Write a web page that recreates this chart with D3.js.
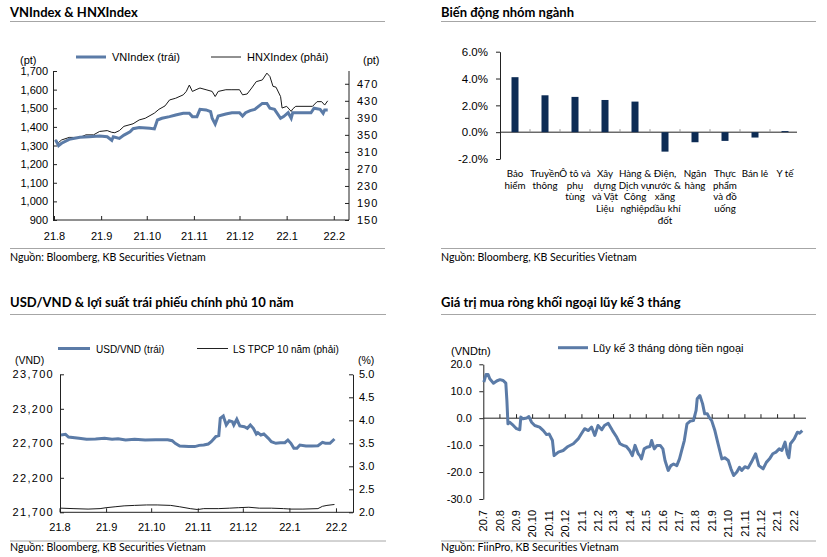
<!DOCTYPE html>
<html><head><meta charset="utf-8">
<script src="https://cdn.jsdelivr.net/npm/d3@7"></script>
<style>
body{margin:0;background:#fff}
svg{display:block}
text{font-family:"Liberation Sans",Arial,sans-serif;fill:#000}
.title{font-family:Lato,sans-serif;font-weight:bold;font-size:13px}
.src{font-family:Lato,sans-serif;font-size:10.6px}
.cat{font-family:Lato,sans-serif;font-size:9.8px}
</style>
</head><body>
<svg id="c" width="827" height="557"></svg>
<script>
// ---------- DATA ----------
const vnDates = ["2021-08-02","2021-08-04","2021-08-06","2021-08-11","2021-08-18","2021-08-24","2021-08-31","2021-09-05","2021-09-08","2021-09-09","2021-09-13","2021-09-16","2021-09-20","2021-09-22","2021-09-26","2021-10-03","2021-10-06","2021-10-08","2021-10-11","2021-10-16","2021-10-20","2021-10-25","2021-10-29","2021-10-31","2021-11-03","2021-11-05","2021-11-09","2021-11-12","2021-11-13","2021-11-15","2021-11-17","2021-11-22","2021-11-26","2021-12-01","2021-12-03","2021-12-05","2021-12-08","2021-12-11","2021-12-16","2021-12-19","2021-12-21","2021-12-24","2021-12-28","2021-12-30","2022-01-02","2022-01-04","2022-01-05","2022-01-09","2022-01-17","2022-01-19","2022-01-23","2022-01-25","2022-01-26","2022-01-28"];
const vnValues = [1330,1299,1312,1333,1344,1347,1351,1347,1328,1347,1338,1356,1374,1390,1396,1392,1389,1437,1446,1455,1464,1473,1473,1455,1455,1494,1491,1482,1446,1415,1458,1469,1476,1476,1458,1476,1487,1494,1526,1526,1500,1494,1446,1455,1476,1446,1476,1476,1476,1500,1494,1473,1491,1491];
const hnxDates = ["2021-08-02","2021-08-04","2021-08-06","2021-08-11","2021-08-18","2021-08-22","2021-08-27","2021-08-31","2021-09-05","2021-09-08","2021-09-10","2021-09-13","2021-09-16","2021-09-22","2021-09-26","2021-09-30","2021-10-06","2021-10-09","2021-10-13","2021-10-16","2021-10-20","2021-10-25","2021-10-27","2021-10-29","2021-10-31","2021-11-03","2021-11-05","2021-11-09","2021-11-13","2021-11-15","2021-11-17","2021-11-22","2021-11-26","2021-12-01","2021-12-03","2021-12-06","2021-12-09","2021-12-12","2021-12-16","2021-12-19","2021-12-21","2021-12-23","2021-12-25","2021-12-28","2021-12-29","2022-01-01","2022-01-04","2022-01-05","2022-01-07","2022-01-18","2022-01-21","2022-01-24","2022-01-26","2022-01-28"];
const hnxValues = [338,332,338,344,344,350,350,358,360,356,355,360,370,376,385,389,401,410,418,432,436,444,452,467,452,457,460,456,452,440,452,456,456,456,444,446,460,475,479,495,487,464,462,440,413,417,405,411,417,417,428,428,420,430];
const vnTicks = [900,1000,1100,1200,1300,1400,1500,1600,1700];
const hnxTicks = [150,190,230,270,310,350,390,430,470];
const monthTicks1 = ["2021-08-01","2021-09-01","2021-10-01","2021-11-01","2021-12-01","2022-01-01","2022-02-01"];

const sectors = ["Bảo\nhiểm","Truyền\nthông","Ô tô và\nphụ\ntùng","Xây\ndựng\nvà Vật\nLiệu","Hàng &\nDịch vụ\nCông\nnghiệp","Điện,\nnước &\nxăng\ndầu khí\nđốt","Ngân\nhàng","Thực\nphẩm\nvà đồ\nuống","Bán lẻ","Y tế"];
const sectorChange = [4.1,2.75,2.63,2.4,2.28,-1.45,-0.75,-0.65,-0.4,0.08];
const pctTicks = [-2,0,2,4,6];

const usdDates = ["2021-08-02","2021-08-05","2021-08-07","2021-08-14","2021-08-19","2021-08-25","2021-08-31","2021-09-05","2021-09-09","2021-09-14","2021-09-20","2021-09-27","2021-10-04","2021-10-12","2021-10-15","2021-10-17","2021-10-20","2021-10-26","2021-10-30","2021-11-02","2021-11-05","2021-11-08","2021-11-10","2021-11-13","2021-11-15","2021-11-16","2021-11-18","2021-11-20","2021-11-22","2021-11-24","2021-11-25","2021-11-27","2021-11-29","2021-12-02","2021-12-04","2021-12-06","2021-12-08","2021-12-10","2021-12-11","2021-12-13","2021-12-15","2021-12-18","2021-12-20","2021-12-23","2021-12-26","2021-12-29","2021-12-31","2022-01-02","2022-01-04","2022-01-06","2022-01-08","2022-01-12","2022-01-16","2022-01-20","2022-01-23","2022-01-25","2022-01-28","2022-01-31"];
const usdValues = [22820,22830,22790,22772,22758,22762,22772,22758,22767,22748,22758,22748,22752,22752,22738,22700,22661,22652,22652,22670,22675,22690,22723,22796,22810,23062,23096,22965,23028,23014,22965,23048,22951,22940,22917,22965,22917,22835,22855,22820,22835,22772,22723,22700,22709,22709,22748,22700,22627,22627,22675,22661,22661,22665,22714,22700,22700,22762];
const bondDates = ["2021-08-02","2021-08-10","2021-08-20","2021-08-28","2021-09-01","2021-09-07","2021-09-13","2021-09-20","2021-09-28","2021-10-05","2021-10-14","2021-10-20","2021-10-27","2021-11-01","2021-11-05","2021-11-15","2021-11-22","2021-11-28","2021-12-05","2021-12-12","2021-12-20","2021-12-28","2022-01-02","2022-01-10","2022-01-20","2022-01-23","2022-01-26","2022-01-31"];
const bondValues = [2.09,2.08,2.07,2.08,2.10,2.12,2.14,2.15,2.16,2.16,2.15,2.12,2.08,2.06,2.08,2.08,2.09,2.10,2.11,2.09,2.09,2.08,2.07,2.07,2.08,2.13,2.15,2.17];
const usdTicks = [21700,22200,22700,23200,23700];
const bondTicks = [2.0,2.5,3.0,3.5,4.0,4.5,5.0];

const flowDates = ["2020-07-02","2020-07-06","2020-07-10","2020-07-13","2020-07-20","2020-07-26","2020-08-01","2020-08-07","2020-08-12","2020-08-14","2020-08-16","2020-08-19","2020-08-26","2020-09-01","2020-09-07","2020-09-09","2020-09-13","2020-09-20","2020-09-24","2020-09-29","2020-10-05","2020-10-14","2020-10-21","2020-10-27","2020-11-01","2020-11-07","2020-11-10","2020-11-18","2020-11-27","2020-12-06","2020-12-16","2020-12-25","2020-12-31","2021-01-06","2021-01-13","2021-01-19","2021-01-25","2021-01-31","2021-02-07","2021-02-12","2021-02-19","2021-02-27","2021-03-07","2021-03-13","2021-03-19","2021-03-25","2021-03-31","2021-04-05","2021-04-10","2021-04-16","2021-04-19","2021-04-22","2021-04-27","2021-05-02","2021-05-08","2021-05-11","2021-05-16","2021-05-21","2021-05-27","2021-06-01","2021-06-05","2021-06-11","2021-06-16","2021-06-21","2021-06-27","2021-07-02","2021-07-06","2021-07-11","2021-07-16","2021-07-22","2021-07-28","2021-08-02","2021-08-04","2021-08-09","2021-08-14","2021-08-18","2021-08-23","2021-08-26","2021-08-31","2021-09-06","2021-09-12","2021-09-19","2021-09-25","2021-10-01","2021-10-06","2021-10-11","2021-10-17","2021-10-22","2021-10-26","2021-11-01","2021-11-07","2021-11-13","2021-11-21","2021-11-27","2021-12-05","2021-12-11","2021-12-17","2021-12-23","2021-12-29","2022-01-04","2022-01-09","2022-01-15","2022-01-19","2022-01-22","2022-01-25","2022-02-01","2022-02-07","2022-02-11","2022-02-16"];
const flowValues = [13.4,16.2,16.2,14.6,13.0,13.8,14.3,14.0,13.0,6.6,-2.1,-1.5,-2.7,-3.9,-4.3,0.4,-0.2,0.1,0.6,-1.5,-2.7,-3.3,-4.6,-6.1,-5.9,-8.3,-13.9,-12.6,-12.0,-10.5,-9.5,-7.7,-5.8,-3.9,-4.6,-3.3,-6.4,-2.7,-4.3,-2.7,-1.9,-4.6,-7.1,-9.5,-10.1,-10.5,-12.0,-13.9,-10.1,-13.2,-13.9,-15.1,-11.4,-10.8,-10.5,-8.3,-11.4,-10.1,-10.1,-11.4,-15.7,-19.4,-17.6,-17.0,-17.6,-15.1,-12.0,-8.3,-2.1,-1.1,-0.9,2.9,7.2,8.4,5.4,1.6,1.6,0.4,-0.9,-4.6,-9.5,-15.1,-14.7,-15.7,-18.8,-21.3,-20.0,-18.2,-19.4,-18.0,-18.5,-16.4,-13.2,-17.6,-18.8,-16.4,-15.1,-13.2,-12.6,-11.4,-12.0,-8.9,-13.2,-14.7,-9.5,-7.7,-5.2,-5.6,-4.6];
const flowTicks = [-30,-20,-10,0,10,20];

// ---------- DRAW ----------
const svg = d3.select("#c");
const parse = d3.timeParse("%Y-%m-%d");
const BLUE = "#5b7ba7", AXIS = "#222", RULE = "#a6a6a6";
const fmtMonth = d3.timeFormat("%y.%-m");

function header(x0, x1, ty, ry, title){
  svg.append("text").attr("class","title").attr("x",x0).attr("y",ty).text(title);
  svg.append("line").attr("x1",x0).attr("x2",x1).attr("y1",ry).attr("y2",ry).attr("stroke",RULE).attr("stroke-width",1);
}
function footer(x0, x1, ry, ty, txt){
  svg.append("line").attr("x1",x0).attr("x2",x1).attr("y1",ry).attr("y2",ry).attr("stroke",RULE).attr("stroke-width",1);
  svg.append("text").attr("class","src").attr("x",x0).attr("y",ty).text(txt);
}
function styleAxis(g, fs){
  g.selectAll("path.domain").attr("stroke",AXIS);
  g.selectAll(".tick line").attr("stroke",AXIS);
  g.selectAll("text").attr("font-family","'Liberation Sans',Arial,sans-serif").attr("font-size",fs).attr("fill","#000");
}
function legendItem(x1, x2, y, w, color, tx, label, fs){
  svg.append("line").attr("x1",x1).attr("x2",x2).attr("y1",y).attr("y2",y).attr("stroke",color).attr("stroke-width",w);
  svg.append("text").attr("x",tx).attr("y",y+4).attr("font-size",fs).text(label);
}
const zip = (ds, vs) => ds.map((d,i)=>({date:parse(d), v:vs[i]}));

// ===== Panel 1 =====
header(10, 385, 17, 21.5, "VNIndex & HNXIndex");
{
  const x = d3.scaleTime().domain([parse("2021-08-01"), parse("2022-02-11")]).range([54, 349]);
  const yL = d3.scaleLinear().domain([900,1700]).range([220,71]);
  const yR = d3.scaleLinear().domain([150,500]).range([220,71]);
  const gl = svg.append("g").attr("transform","translate(53,0)")
    .call(d3.axisLeft(yL).tickValues(vnTicks).tickFormat(d3.format(",")).tickSize(-4).tickSizeOuter(0).tickPadding(5));
  styleAxis(gl, 11);
  const gr = svg.append("g").attr("transform","translate(349,0)")
    .call(d3.axisRight(yR).tickValues(hnxTicks).tickSize(-4).tickSizeOuter(0).tickPadding(8));
  styleAxis(gr, 11); gr.selectAll("text").attr("letter-spacing","1px");
  gr.select("path.domain").attr("d","M0,71V220");
  const gx = svg.append("g").attr("transform","translate(0,220)")
    .call(d3.axisBottom(x).tickValues(monthTicks1.map(parse)).tickFormat(fmtMonth).tickSize(-4).tickSizeOuter(0).tickPadding(12));
  styleAxis(gx, 11);
  gx.select("path.domain").attr("d","M53,0H349");
  svg.append("text").attr("x",20).attr("y",64).attr("font-size",11).text("(pt)");
  svg.append("text").attr("x",363).attr("y",64).attr("font-size",11).text("(pt)");
  legendItem(76,106,57,3,BLUE,112,"VNIndex (trái)",11);
  legendItem(211,241,57,1,"#222",247,"HNXIndex (phải)",11);
  svg.append("path").datum(zip(hnxDates,hnxValues)).attr("fill","none").attr("stroke","#1a1a1a").attr("stroke-width",1)
    .attr("d", d3.line().x(d=>x(d.date)).y(d=>yR(d.v)));
  svg.append("path").datum(zip(vnDates,vnValues)).attr("fill","none").attr("stroke",BLUE).attr("stroke-width",3)
    .attr("d", d3.line().x(d=>x(d.date)).y(d=>yL(d.v)));
}
footer(10, 385, 248.5, 261, "Nguồn: Bloomberg, KB Securities Vietnam");

// ===== Panel 2 =====
header(441, 816, 17, 21.5, "Biến động nhóm ngành");
{
  const x = d3.scaleBand().domain(sectors).range([500,800]);
  const y = d3.scaleLinear().domain([-2,6]).range([159,51.7]);
  const gy = svg.append("g").attr("transform","translate(500,0)")
    .call(d3.axisLeft(y).tickValues(pctTicks).tickFormat(d=>d.toFixed(1)+"%").tickSize(4).tickSizeOuter(0).tickPadding(8));
  styleAxis(gy, 11.5);
  svg.append("line").attr("x1",500).attr("x2",797).attr("y1",y(0)).attr("y2",y(0)).attr("stroke",AXIS);
  svg.append("g").selectAll("line").data(sectors.slice(1)).join("line")
    .attr("x1",d=>x(d)).attr("x2",d=>x(d)).attr("y1",y(0)).attr("y2",y(0)-3).attr("stroke","#999");
  svg.append("g").selectAll("rect").data(sectors).join("rect")
    .attr("x",d=>x(d)+x.bandwidth()/2-3.5).attr("width",7)
    .attr("y",(d,i)=>y(Math.max(0,sectorChange[i])))
    .attr("height",(d,i)=>Math.abs(y(sectorChange[i])-y(0)))
    .attr("fill","#0c2b54");
  const lab = svg.append("g").selectAll("text").data(sectors).join("text").attr("class","cat")
    .attr("text-anchor","middle").attr("x",d=>x(d)+x.bandwidth()/2).attr("y",177);
  lab.selectAll("tspan").data(d=>d.split("\n")).join("tspan")
    .attr("x",function(){return this.parentNode.getAttribute("x");}).attr("dy",(d,i)=>i?11.7:0).text(d=>d);
}
footer(441, 816, 248.5, 261, "Nguồn: Bloomberg, KB Securities Vietnam");

// ===== Panel 3 =====
header(10, 386, 307, 314.5, "USD/VND & lợi suất trái phiếu chính phủ 10 năm");
{
  const x = d3.scaleTime().domain([parse("2021-08-01"), parse("2022-02-12")]).range([59.5, 352.5]);
  const yL = d3.scaleLinear().domain([21700,23700]).range([512.3,374.3]);
  const yR = d3.scaleLinear().domain([2,5]).range([512.3,374.3]);
  const gl = svg.append("g").attr("transform","translate(60,0)")
    .call(d3.axisLeft(yL).tickValues(usdTicks).tickFormat(d3.format(",")).tickSize(-4).tickSizeOuter(0).tickPadding(6));
  styleAxis(gl, 11); gl.selectAll("text").attr("letter-spacing","1.3px");
  const gr = svg.append("g").attr("transform","translate(353,0)")
    .call(d3.axisRight(yR).tickValues(bondTicks).tickFormat(d3.format(".1f")).tickSize(-4).tickSizeOuter(0).tickPadding(6));
  styleAxis(gr, 11);
  const gx = svg.append("g").attr("transform","translate(0,512.3)")
    .call(d3.axisBottom(x).tickValues(monthTicks1.map(parse)).tickFormat(fmtMonth).tickSize(-4).tickSizeOuter(0).tickPadding(11));
  styleAxis(gx, 11);
  gx.select("path.domain").attr("d","M60,0H353");
  svg.append("text").attr("x",15).attr("y",364).attr("font-size",10.5).text("(VND)");
  svg.append("text").attr("x",358).attr("y",364).attr("font-size",10.5).text("(%)");
  legendItem(58,90,348.5,3,BLUE,96,"USD/VND (trái)",10);
  legendItem(197,228,348.5,1,"#222",233,"LS TPCP 10 năm (phải)",10);
  svg.append("path").datum(zip(bondDates,bondValues)).attr("fill","none").attr("stroke","#1a1a1a").attr("stroke-width",1)
    .attr("d", d3.line().x(d=>x(d.date)).y(d=>yR(d.v)));
  svg.append("path").datum(zip(usdDates,usdValues)).attr("fill","none").attr("stroke",BLUE).attr("stroke-width",3)
    .attr("d", d3.line().x(d=>x(d.date)).y(d=>yL(d.v)));
}
footer(10, 386, 541, 551, "Nguồn: Bloomberg, KB Securities Vietnam");

// ===== Panel 4 =====
header(441, 816, 307, 314.5, "Giá trị mua ròng khối ngoại lũy kế 3 tháng");
{
  const x = d3.scaleTime().domain([parse("2020-07-01"), parse("2022-02-23")]).range([483.3, 806]);
  const y = d3.scaleLinear().domain([-30,20]).range([499,364.3]);
  const gy = svg.append("g").attr("transform","translate(483.3,0)")
    .call(d3.axisLeft(y).tickValues(flowTicks).tickFormat(d=>d.toFixed(1)).tickSize(4).tickSizeOuter(0).tickPadding(7.5));
  styleAxis(gy, 11);
  const months = d3.timeMonth.range(parse("2020-07-01"), parse("2022-02-02"));
  svg.append("line").attr("x1",483.3).attr("x2",806).attr("y1",y(0)).attr("y2",y(0)).attr("stroke",AXIS);
  svg.append("g").selectAll("line").data(months.slice(1)).join("line")
    .attr("x1",d=>x(d)).attr("x2",d=>x(d)).attr("y1",y(0)).attr("y2",y(0)-4).attr("stroke",AXIS);
  svg.append("g").selectAll("text").data(months).join("text")
    .attr("transform",d=>`translate(${x(d)},510) rotate(-90)`).attr("dy","0.35em")
    .attr("text-anchor","end").attr("font-size",11).text(fmtMonth);
  svg.append("text").attr("x",451).attr("y",355).attr("font-size",11).text("(VNDtn)");
  legendItem(558,588,347.7,3,BLUE,593,"Lũy kế 3 tháng dòng tiền ngoại",11);
  svg.append("path").datum(zip(flowDates,flowValues)).attr("fill","none").attr("stroke",BLUE).attr("stroke-width",3)
    .attr("stroke-linejoin","round")
    .attr("d", d3.line().x(d=>x(d.date)).y(d=>y(d.v)));
}
footer(441, 816, 541, 551, "Nguồn: FiinPro, KB Securities Vietnam");
</script>
</body></html>
